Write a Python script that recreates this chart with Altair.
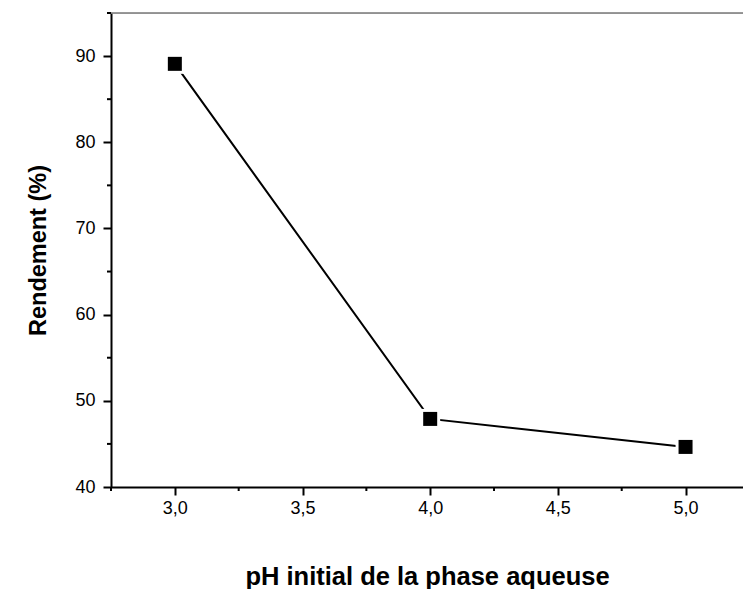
import altair as alt
import pandas as pd

# Data
ph = [3.0, 4.0, 5.0]
rendement = [89.1, 47.9, 44.65]

x_major = [3.0, 3.5, 4.0, 4.5, 5.0]
x_minor = [2.75, 3.25, 3.75, 4.25, 4.75]
y_major = [40, 50, 60, 70, 80, 90]
y_minor = [45, 55, 65, 75, 85, 95]

X_DOMAIN = [2.75, 5.225]
Y_DOMAIN = [40, 95]
W, H = 632, 474
FONT = "Liberation Sans"

df = pd.DataFrame({"ph": ph, "rendement": rendement})
xs = alt.Scale(domain=X_DOMAIN, nice=False, zero=False)
ys = alt.Scale(domain=Y_DOMAIN, nice=False, zero=False)

lbl = "replace(format(datum.value, '.1f'), '.', ',')"

base = alt.Chart(df)

line = base.mark_line(color="black", strokeWidth=2).encode(
    x=alt.X("ph:Q", scale=xs,
            axis=alt.Axis(values=x_major, labelExpr=lbl, title="pH initial de la phase aqueuse",
                          grid=False, domainColor="black", domainWidth=2, tickColor="black",
                          tickWidth=2, tickSize=8, labelPadding=4, labelFont=FONT, labelFontSize=18,
                          labelColor="black", titleFont=FONT, titleFontSize=25.5, titleFontWeight="bold",
                          titleColor="black", titleBaseline="alphabetic", titleY=97,
                          titleX=W / 2, titleAnchor="middle", labelFlush=False)),
    y=alt.Y("rendement:Q", scale=ys,
            axis=alt.Axis(values=y_major, title="Rendement (%)", grid=False, domainColor="black",
                          domainWidth=2, tickColor="black", tickWidth=2, tickSize=8, labelPadding=8,
                          labelFont=FONT, labelFontSize=18, labelColor="black", titleFont=FONT,
                          titleFontSize=23.5, titleFontWeight="bold", titleColor="black",
                          titleX=-66, titleY=H / 2, titleAngle=270, titleBaseline="alphabetic",
                          titleAlign="center", labelFlush=False)),
)

halo = base.mark_point(shape="square", filled=True, color="white", size=400, opacity=1).encode(
    x=alt.X("ph:Q", scale=xs), y=alt.Y("rendement:Q", scale=ys))
pts = base.mark_point(shape="square", filled=True, color="black", size=196, opacity=1).encode(
    x=alt.X("ph:Q", scale=xs), y=alt.Y("rendement:Q", scale=ys))

xminor_df = pd.DataFrame({"v": x_minor})
yminor_df = pd.DataFrame({"v": y_minor})

xmin = alt.Chart(xminor_df).mark_rule(color="black", strokeWidth=2).encode(
    x=alt.X("v:Q", scale=xs), y=alt.value(H), y2=alt.value(H + 4))
ymin = alt.Chart(yminor_df).mark_rule(color="black", strokeWidth=2).encode(
    y=alt.Y("v:Q", scale=ys), x=alt.value(-4), x2=alt.value(0))

top = alt.Chart(pd.DataFrame({"t": [Y_DOMAIN[1]]})).mark_rule(color="#777777", strokeWidth=1.5).encode(
    y=alt.Y("t:Q", scale=ys), x=alt.value(0), x2=alt.value(W))

chart = alt.layer(line, halo, pts, xmin, ymin, top).properties(
    width=W, height=H,
    autosize=alt.AutoSizeParams(type="none"),
    padding={"left": 111, "top": 13, "right": 0, "bottom": 102},
).configure_view(stroke=None).configure(background="white")

chart.save("out.html", embed_options={"renderer": "svg", "actions": False})
